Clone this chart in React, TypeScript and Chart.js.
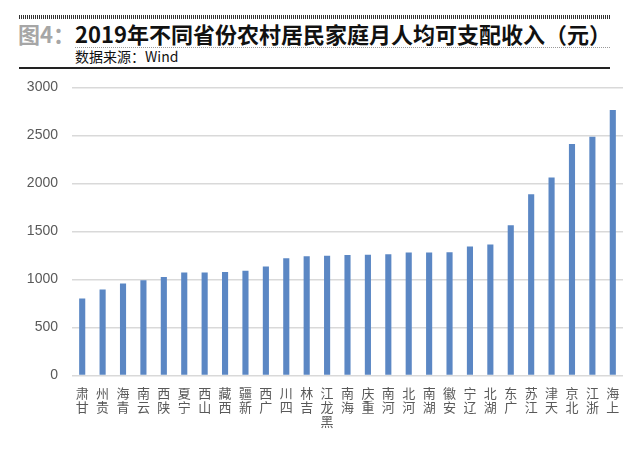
import React, { useEffect, useRef } from "react";
import { Chart, registerables } from "chart.js";

Chart.register(...registerables);

const provinces = [
  "甘肃", "贵州", "青海", "云南", "陕西", "宁夏", "山西", "西藏", "新疆",
  "广西", "四川", "吉林", "黑龙江", "海南", "重庆", "河南", "河北", "湖南",
  "安徽", "辽宁", "湖北", "广东", "江苏", "天津", "北京", "浙江", "上海",
];
const incomeValues = [
  802, 897, 958, 992, 1027, 1072, 1074, 1079, 1092,
  1135, 1221, 1242, 1248, 1256, 1258, 1264, 1281, 1282,
  1283, 1343, 1364, 1566, 1888, 2063, 2411, 2488, 2765,
];
const yTicks = [0, 500, 1000, 1500, 2000, 2500, 3000];

const titlePrefix = "图4：";
const titleText = "2019年不同省份农村居民家庭月人均可支配收入（元）";
const sourceText = "数据来源：Wind";

const FONT = '"Liberation Sans", "Noto Sans CJK SC", sans-serif';
const CJK = '"Noto Sans CJK SC", "Liberation Sans", sans-serif';

export default function App() {
  const ref = useRef<HTMLCanvasElement | null>(null);

  useEffect(() => {
    if (!ref.current) return;
    // vertical stacked labels, read bottom-to-top (last char on top)
    const labels = provinces.map((p) => Array.from(p).reverse());
    const chart = new Chart(ref.current, {
      type: "bar",
      data: {
        labels,
        datasets: [
          {
            data: incomeValues,
            backgroundColor: "#5B87C4",
            barPercentage: 0.3,
            categoryPercentage: 1,
          },
        ],
      },
      options: {
        animation: false,
        responsive: false,
        maintainAspectRatio: false,
        devicePixelRatio: 1,
        layout: { padding: { top: 12.5, right: 17, left: 0, bottom: 0 } },
        plugins: { legend: { display: false }, tooltip: { enabled: false } },
        scales: {
          y: {
            min: 0,
            max: 3000,
            afterBuildTicks: (s: any) => {
              s.ticks = yTicks.map((v) => ({ value: v }));
            },
            afterFit: (s: any) => {
              s.width = 72;
              s.paddingTop = 8;
              s.paddingBottom = 8;
            },
            ticks: {
              font: { family: FONT, size: 14 },
              color: "#595959",
              padding: 14,
              callback: (v: any) => String(v),
            },
            grid: { color: "#d9d9d9", lineWidth: 1.5, drawTicks: false },
            border: { display: false },
          },
          x: {
            afterFit: (s: any) => {
              s.height = 73.5;
            },
            grid: { display: false, drawTicks: false },
            border: { display: false },
            ticks: {
              font: { family: CJK, size: 13, lineHeight: 1.1 },
              color: "#595959",
              maxRotation: 0,
              minRotation: 0,
              autoSkip: false,
              padding: 10,
            },
          },
        },
      },
    });
    return () => chart.destroy();
  }, []);

  return (
    <div
      style={{
        position: "fixed",
        left: 0,
        top: 0,
        width: 640,
        height: 449,
        background: "#fff",
        overflow: "hidden",
      }}
    >
      <div
        style={{
          position: "absolute",
          left: 19,
          top: 15,
          width: 591,
          height: 4,
          background:
            "repeating-linear-gradient(90deg, #333 0px, #333 1px, transparent 1px, transparent 2px)",
        }}
      />
      <div
        style={{
          position: "absolute",
          left: 18,
          top: 18,
          fontFamily: CJK,
          fontWeight: 700,
          fontSize: 22,
          lineHeight: "30px",
          color: "#a6a6a6",
          whiteSpace: "nowrap",
        }}
      >
        {titlePrefix}
      </div>
      <div
        style={{
          position: "absolute",
          left: 75,
          top: 18,
          fontFamily: CJK,
          fontWeight: 700,
          fontSize: 22,
          lineHeight: "30px",
          color: "#111",
          whiteSpace: "nowrap",
        }}
      >
        {titleText}
      </div>
      <div
        style={{
          position: "absolute",
          left: 75,
          top: 47,
          width: 535,
          height: 0,
          borderTop: "1px dotted #999",
        }}
      />
      <div
        style={{
          position: "absolute",
          left: 75,
          top: 47,
          fontFamily: CJK,
          fontSize: 14,
          lineHeight: "18px",
          color: "#111",
          whiteSpace: "nowrap",
        }}
      >
        {sourceText}
      </div>
      <div
        style={{
          position: "absolute",
          left: 19,
          top: 67,
          width: 591,
          height: 2,
          background: "#222",
        }}
      />
      <div style={{ position: "absolute", left: 0, top: 75, width: 640, height: 374 }}>
        <canvas ref={ref} width={640} height={374} style={{ width: 640, height: 374 }} />
      </div>
    </div>
  );
}
